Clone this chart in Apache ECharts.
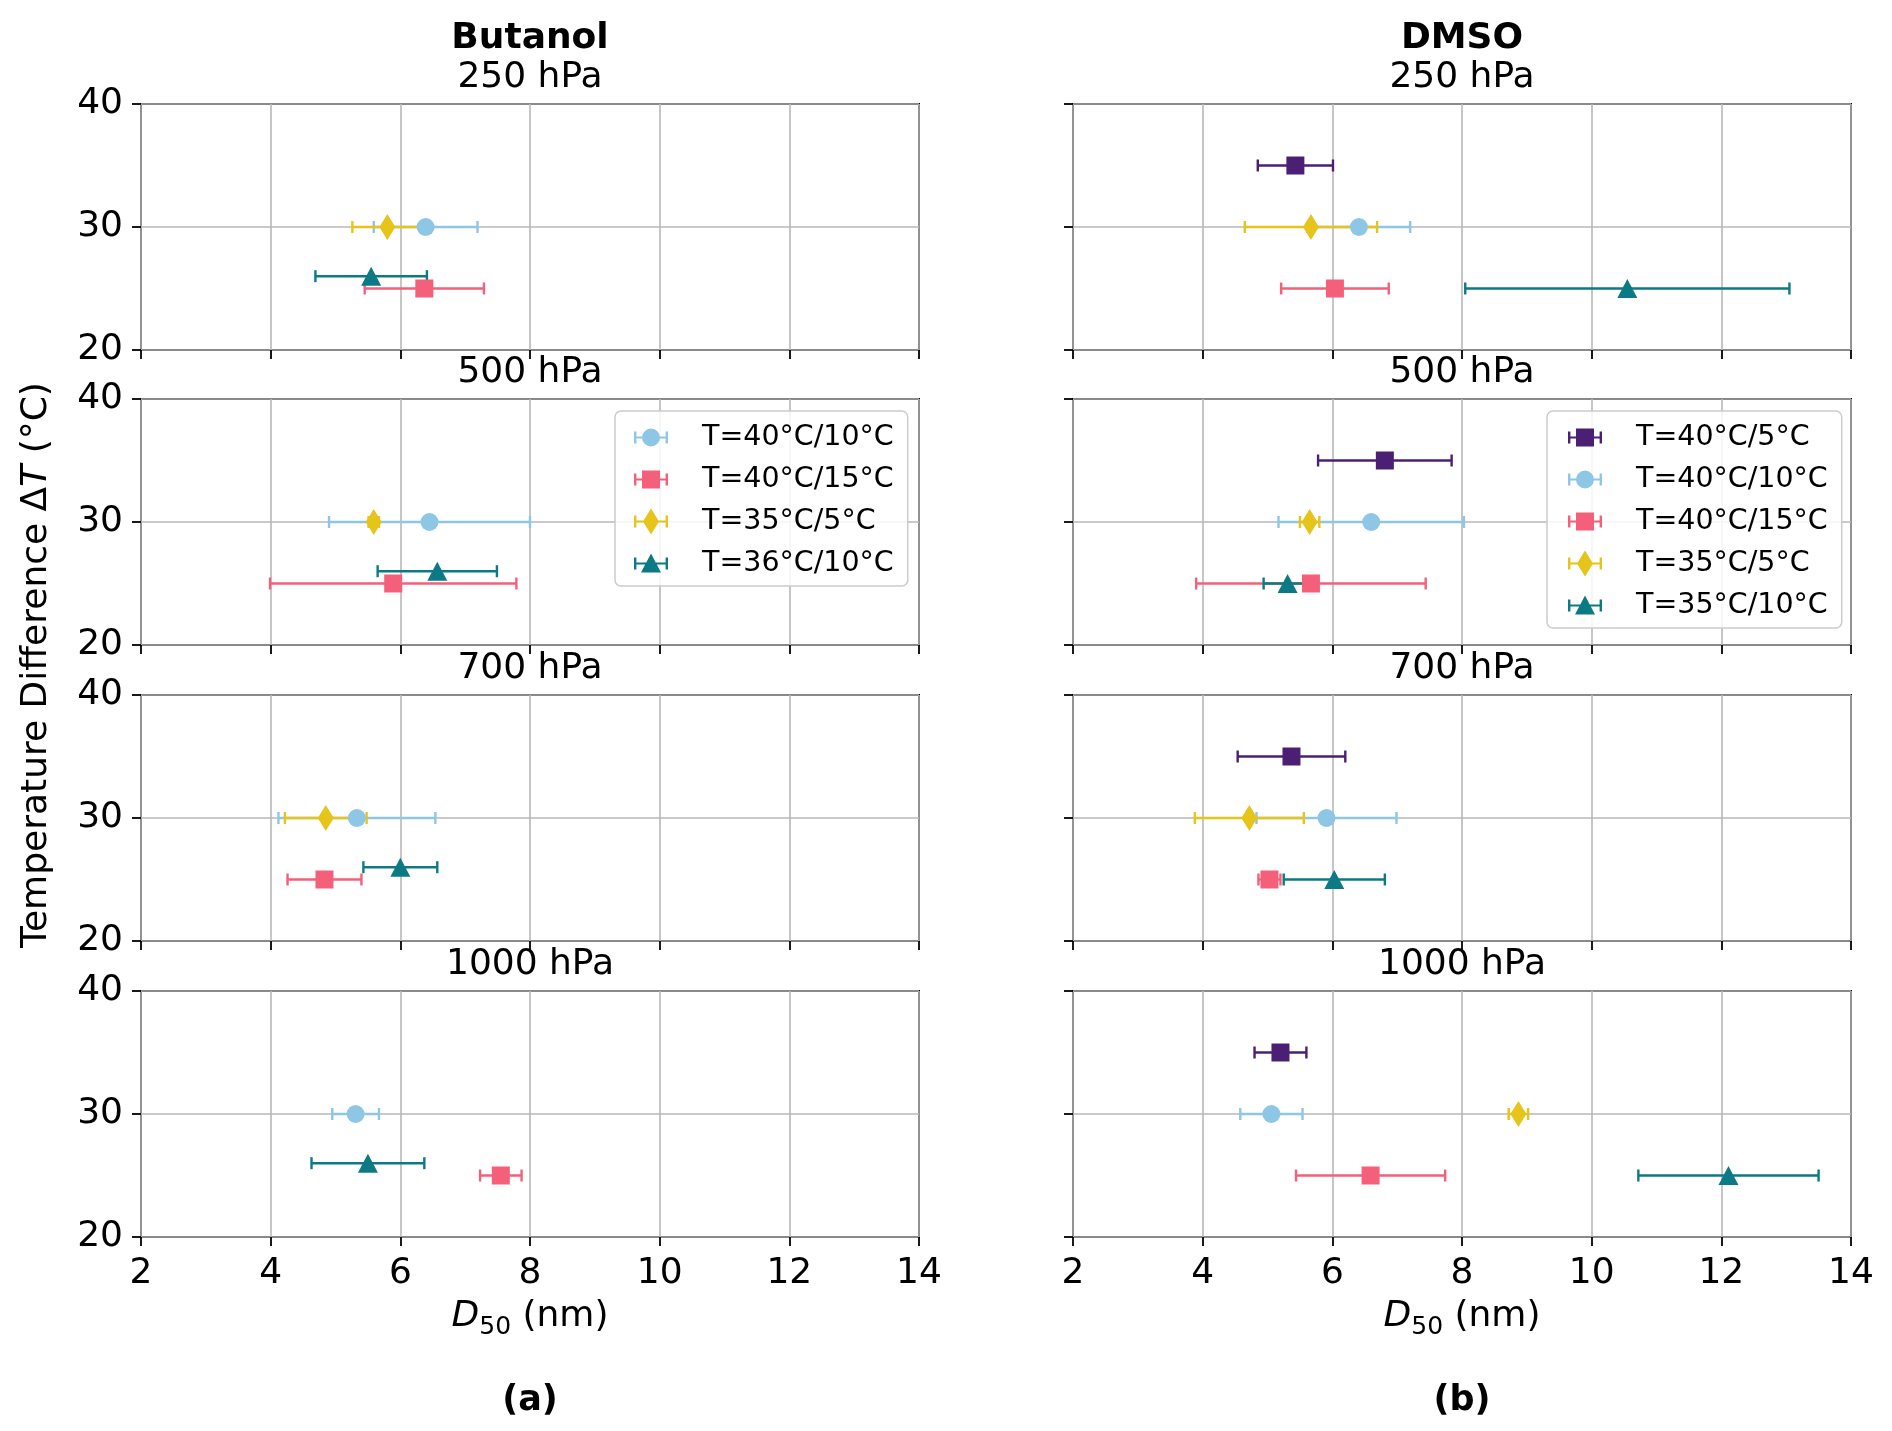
<!DOCTYPE html>
<html>
<head>
<meta charset="utf-8">
<script src="https://cdn.jsdelivr.net/npm/echarts@6/dist/echarts.min.js"></script>
<style>
html, body { margin: 0; padding: 0; background: #fff; }
#chart { width: 1892px; height: 1431px; }
</style>
</head>
<body>
<div id="chart"></div>
<script>
// ---- data ----
var pressures = ['250 hPa', '500 hPa', '700 hPa', '1000 hPa'];
var xMin = 2, xMax = 14, xStep = 2;
var yMin = 20, yMax = 40, yStep = 10;

// Butanol: D50 (nm) per pressure, +/- error, and the temperature difference
var but4010 = [6.39, 6.45, 5.33, 5.31];
var but4010Err = [0.80, 1.55, 1.21, 0.36];
var but4015 = [6.37, 5.89, 4.83, 7.55];
var but4015Err = [0.92, 1.90, 0.57, 0.32];
var but355 = [5.80, 5.59, 4.85, null];
var but355Err = [0.54, 0.08, 0.63, null];
var but3610 = [5.55, 6.57, 6.00, 5.50];
var but3610Err = [0.86, 0.92, 0.57, 0.87];

// DMSO
var dmso405 = [5.43, 6.81, 5.37, 5.20];
var dmso405Err = [0.58, 1.03, 0.83, 0.40];
var dmso4010 = [6.41, 6.60, 5.91, 5.06];
var dmso4010Err = [0.79, 1.43, 1.08, 0.48];
var dmso4015 = [6.04, 5.67, 5.03, 6.59];
var dmso4015Err = [0.83, 1.77, 0.17, 1.15];
var dmso355 = [5.67, 5.65, 4.72, 8.87];
var dmso355Err = [1.02, 0.15, 0.84, 0.15];
var dmso3510 = [10.55, 5.31, 6.03, 12.11];
var dmso3510Err = [2.50, 0.37, 0.78, 1.39];

var butanol = [
    {name: 'T=40°C/10°C', dT: 30, d50: but4010, err: but4010Err},
    {name: 'T=40°C/15°C', dT: 25, d50: but4015, err: but4015Err},
    {name: 'T=35°C/5°C', dT: 30, d50: but355, err: but355Err},
    {name: 'T=36°C/10°C', dT: 26, d50: but3610, err: but3610Err}
];
var dmso = [
    {name: 'T=40°C/5°C', dT: 35, d50: dmso405, err: dmso405Err},
    {name: 'T=40°C/10°C', dT: 30, d50: dmso4010, err: dmso4010Err},
    {name: 'T=40°C/15°C', dT: 25, d50: dmso4015, err: dmso4015Err},
    {name: 'T=35°C/5°C', dT: 30, d50: dmso355, err: dmso355Err},
    {name: 'T=35°C/10°C', dT: 25, d50: dmso3510, err: dmso3510Err}
];

// ---- styles ----
var FONT = '"DejaVu Sans", Verdana, sans-serif';
var style = {
    'T=40°C/5°C':  {color: '#4b1f74', mark: 'square'},
    'T=40°C/10°C': {color: '#8ec6e6', mark: 'circle'},
    'T=40°C/15°C': {color: '#f4607a', mark: 'square'},
    'T=35°C/5°C':  {color: '#e6c41a', mark: 'diamond'},
    'T=36°C/10°C': {color: '#0b7a84', mark: 'triangle'},
    'T=35°C/10°C': {color: '#0b7a84', mark: 'triangle'}
};
var symbols = {
    square:   {symbol: 'rect', size: [18, 18]},
    circle:   {symbol: 'circle', size: [18, 18]},
    diamond:  {symbol: 'diamond', size: [16, 26]},
    triangle: {symbol: 'triangle', size: [20, 19]}
};
// legend icons: error bar + marker, padded on the right so text sits further away
var pad = ' M0,0h0.01v0.01h-0.01z M62.99,25.99h0.01v0.01h-0.01z';
var bar = 'M0,12H34V14H0Z M0,7H2.4V19H0Z M31.6,7H34V19H31.6Z ';
var icons = {
    square:   'path://' + bar + 'M8,4H26V22H8Z' + pad,
    circle:   'path://' + bar + 'M8,13A9,9 0 1 1 26,13A9,9 0 1 1 8,13Z' + pad,
    diamond:  'path://' + bar + 'M17,0L25,13L17,26L9,13Z' + pad,
    triangle: 'path://' + bar + 'M17,3L27,22L7,22Z' + pad
};

var colLeft = [141, 1073];
var colWidth = 778;
var rowTop = [104, 399, 695, 991];
var rowHeight = 246;

function renderErr(params, api) {
    var y = api.value(2);
    var a = api.coord([api.value(0), y]);
    var b = api.coord([api.value(1), y]);
    var st = {stroke: api.visual('color'), lineWidth: 2.4};
    return {
        type: 'group',
        children: [
            {type: 'line', shape: {x1: a[0], y1: a[1], x2: b[0], y2: b[1]}, style: st},
            {type: 'line', shape: {x1: a[0], y1: a[1] - 6, x2: a[0], y2: a[1] + 6}, style: st},
            {type: 'line', shape: {x1: b[0], y1: b[1] - 6, x2: b[0], y2: b[1] + 6}, style: st}
        ]
    };
}

var grids = [], xAxes = [], yAxes = [], series = [], graphics = [];
var cols = [butanol, dmso];

for (var c = 0; c < 2; c++) {
    for (var r = 0; r < 4; r++) {
        var p = grids.length;
        grids.push({
            left: colLeft[c], top: rowTop[r], width: colWidth, height: rowHeight,
            show: true, borderColor: '#000', borderWidth: 2, backgroundColor: 'transparent'
        });
        xAxes.push({
            type: 'value', gridIndex: p, min: xMin, max: xMax, interval: xStep,
            axisLine: {show: false},
            axisTick: {show: true, length: 9, lineStyle: {color: '#000', width: 1.8}},
            axisLabel: {show: r === 3, margin: 19, color: '#000', fontSize: 36, fontFamily: FONT},
            splitLine: {show: true, lineStyle: {color: '#b8b8b8', width: 1.6}}
        });
        yAxes.push({
            type: 'value', gridIndex: p, min: yMin, max: yMax, interval: yStep,
            axisLine: {show: false},
            axisTick: {show: true, length: 9, lineStyle: {color: '#000', width: 1.8}},
            axisLabel: {show: c === 0, margin: 18, color: '#000', fontSize: 36, fontFamily: FONT},
            splitLine: {show: true, lineStyle: {color: '#b8b8b8', width: 1.6}}
        });
        var conds = cols[c];
        for (var k = 0; k < conds.length; k++) {
            var cd = conds[k];
            var v = cd.d50[r], e = cd.err[r];
            if (v == null) continue;
            var st = style[cd.name];
            var sy = symbols[st.mark];
            series.push({
                type: 'custom', xAxisIndex: p, yAxisIndex: p, silent: true, z: 2,
                itemStyle: {color: st.color},
                encode: {x: [0, 1], y: 2},
                data: [[v - e, v + e, cd.dT]],
                renderItem: renderErr
            });
            series.push({
                name: cd.name, type: 'scatter', xAxisIndex: p, yAxisIndex: p, z: 3,
                symbol: sy.symbol, symbolSize: sy.size,
                itemStyle: {color: st.color, opacity: 1},
                data: [[v, cd.dT]]
            });
        }
        // panel title
        graphics.push({
            type: 'text', x: colLeft[c] + colWidth / 2, y: rowTop[r] - 26, z: 10,
            style: {text: pressures[r], fill: '#000', font: '36px ' + FONT,
                    textAlign: 'center', textVerticalAlign: 'middle'}
        });
    }
}

function legendData(conds) {
    return conds.map(function (cd) {
        return {name: cd.name, icon: icons[style[cd.name].mark]};
    });
}

var legendBase = {
    orient: 'vertical', top: 411, itemWidth: 63, itemHeight: 26, itemGap: 13,
    selectedMode: false, backgroundColor: 'rgba(255,255,255,0.85)',
    borderColor: '#cccccc', borderWidth: 1.5, borderRadius: 6,
    padding: [12, 14, 8, 19], z: 20,
    textStyle: {color: '#000', fontSize: 28.5, fontFamily: FONT}
};
var legends = [
    Object.assign({}, legendBase, {left: 615, data: legendData(butanol)}),
    Object.assign({}, legendBase, {left: 1547, padding: [12, 14, 8, 21], data: legendData(dmso)})
];

var colNames = ['Butanol', 'DMSO'];
var panelTags = ['(a)', '(b)'];
for (var c2 = 0; c2 < 2; c2++) {
    var cx = colLeft[c2] + colWidth / 2;
    graphics.push({
        type: 'text', x: cx, y: 39,
        style: {text: colNames[c2], fill: '#000', font: 'bold 36px ' + FONT,
                textAlign: 'center', textVerticalAlign: 'middle'}
    });
    graphics.push({
        type: 'text', x: cx, y: 1317,
        style: {
            text: '{i|D}{s|50} (nm)', fill: '#000', font: '36px ' + FONT,
            textAlign: 'center', textVerticalAlign: 'middle',
            rich: {
                i: {fontStyle: 'italic', fontSize: 36, fontFamily: FONT, lineHeight: 46},
                s: {fontSize: 25, fontFamily: FONT, lineHeight: 25, verticalAlign: 'bottom'}
            }
        }
    });
    graphics.push({
        type: 'text', x: cx, y: 1401,
        style: {text: panelTags[c2], fill: '#000', font: 'bold 35px ' + FONT,
                textAlign: 'center', textVerticalAlign: 'middle'}
    });
}
graphics.push({
    type: 'text', x: 37, y: 665, rotation: Math.PI / 2,
    style: {
        text: 'Temperature Difference Δ{i|T} (°C)', fill: '#000', font: '36px ' + FONT,
        textAlign: 'center', textVerticalAlign: 'middle',
        rich: {i: {fontStyle: 'italic', fontSize: 36, fontFamily: FONT}}
    }
});

var chart = echarts.init(document.getElementById('chart'));
chart.setOption({
    animation: false,
    backgroundColor: '#fff',
    grid: grids,
    xAxis: xAxes,
    yAxis: yAxes,
    legend: legends,
    graphic: graphics,
    series: series
});
</script>
</body>
</html>
